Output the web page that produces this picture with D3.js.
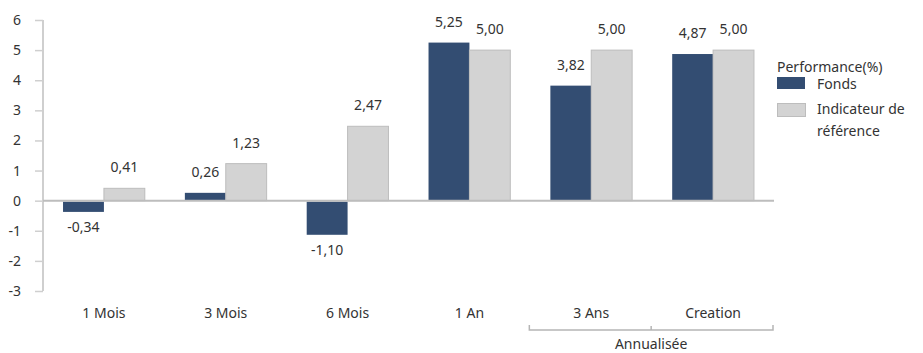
<!DOCTYPE html>
<html>
<head>
<meta charset="utf-8">
<script src="https://cdn.jsdelivr.net/npm/d3@7"></script>
<style>
  body { margin: 0; background: #fff; }
  text { font-family: "Noto Sans", "Open Sans", sans-serif; fill: #333; }
</style>
</head>
<body>
<div id="chart"></div>
<script>
// data
var categories = ["1 Mois", "3 Mois", "6 Mois", "1 An", "3 Ans", "Creation"];
var fonds = [-0.34, 0.26, -1.10, 5.25, 3.82, 4.87];
var reference = [0.41, 1.23, 2.47, 5.00, 5.00, 5.00];
var seriesNames = ["Fonds", "Indicateur de référence"];
var yTicks = [-3, -2, -1, 0, 1, 2, 3, 4, 5, 6];
var annualised = ["3 Ans", "Creation"];

var width = 923, height = 353;
var margin = { left: 43, right: 149, top: 20, bottom: 62 };

var svg = d3.select("#chart")
  .append("svg")
  .attr("width", width)
  .attr("height", height);

var x0 = d3.scaleBand()
  .domain(categories)
  .range([margin.left, width - margin.right])
  .padding(0);

var x1 = d3.scaleBand()
  .domain(seriesNames)
  .range([0, x0.bandwidth()])
  .paddingInner(0)
  .paddingOuter(0.49);

var y = d3.scaleLinear()
  .domain([-3, 6])
  .range([291, 20]);

var fmt = function(v) { return d3.format(".2f")(v).replace(".", ",").replace("−", "-"); };

// y axis
var yAxis = svg.append("g")
  .attr("transform", "translate(" + margin.left + ",0)")
  .call(d3.axisLeft(y).tickValues(yTicks).tickSize(8).tickPadding(14)
    .tickFormat(function(d) { return String(d); }));
yAxis.select(".domain").attr("stroke", "#cfcfcf").attr("stroke-width", 2).attr("d", "M0," + y(6) + "V" + y(-3));
yAxis.selectAll(".tick line").attr("stroke", "#cfcfcf").attr("stroke-width", 1.5);
yAxis.selectAll(".tick text")
  .style("font-size", "14px")
  .style("font-family", "'Noto Sans', sans-serif")
  .attr("fill", "#333");

var rows = categories.map(function(c, i) {
  return { cat: c, values: [ { name: seriesNames[0], v: fonds[i] }, { name: seriesNames[1], v: reference[i] } ] };
});

var group = svg.selectAll(".grp")
  .data(rows)
  .enter().append("g")
  .attr("class", "grp")
  .attr("transform", function(d) { return "translate(" + x0(d.cat) + ",0)"; });

group.selectAll("rect")
  .data(function(d) { return d.values; })
  .enter().append("rect")
  .attr("x", function(d) { return x1(d.name); })
  .attr("width", x1.bandwidth())
  .attr("y", function(d) { return d.v >= 0 ? y(d.v) : y(0) + 1; })
  .attr("height", function(d) { return Math.abs(y(d.v) - y(0)); })
  .style("fill", function(d) { return d.name == "Fonds" ? "#334d72" : "#d3d3d3"; })
  .style("stroke", function(d) { return d.name == "Fonds" ? "none" : "#bdbdbd"; })
  .style("stroke-width", 1);

group.selectAll(".lbl")
  .data(function(d) { return d.values; })
  .enter().append("text")
  .attr("class", "lbl")
  .attr("x", function(d) { return x1(d.name) + x1.bandwidth() / 2; })
  .attr("y", function(d) { return d.v >= 0 ? y(d.v) - 16 : y(d.v) + 21; })
  .attr("text-anchor", "middle")
  .style("font-size", "14px")
  .text(function(d) { return fmt(d.v); });

// zero line
svg.append("line")
  .attr("x1", margin.left)
  .attr("x2", width - margin.right)
  .attr("y1", y(0))
  .attr("y2", y(0))
  .attr("stroke", "#bdbdbd")
  .attr("stroke-width", 2);

// category labels
svg.selectAll(".cat")
  .data(categories)
  .enter().append("text")
  .attr("class", "cat")
  .attr("x", function(d) { return x0(d) + x0.bandwidth() / 2; })
  .attr("y", 318)
  .attr("text-anchor", "middle")
  .style("font-size", "14px")
  .text(function(d) { return d; });

// bracket under annualised columns
var bx1 = x0(annualised[0]) - 1;
var bx2 = x0(annualised[annualised.length - 1]) + x0.bandwidth() - 1;
var bmid = (bx1 + bx2) / 2;
svg.append("path")
  .attr("d", "M" + bx1 + ",325V330H" + bx2 + "V325M" + bmid + ",330V326")
  .attr("fill", "none")
  .attr("stroke", "#b5b5b5")
  .attr("stroke-width", 1.5);
svg.append("text")
  .attr("x", bmid)
  .attr("y", 349)
  .attr("text-anchor", "middle")
  .style("font-size", "14px")
  .text("Annualisée");

// legend
var legend = svg.append("g").attr("transform", "translate(777,0)");
legend.append("text").attr("x", 0).attr("y", 72).style("font-size", "14px").text("Performance(%)");
legend.append("rect").attr("x", 0).attr("y", 77).attr("width", 28).attr("height", 12).style("fill", "#334d72");
legend.append("text").attr("x", 40).attr("y", 89).style("font-size", "14px").text("Fonds");
legend.append("rect").attr("x", 0.5).attr("y", 103.5).attr("width", 28).attr("height", 13).style("fill", "#d3d3d3").style("stroke", "#bdbdbd");
legend.append("text").attr("x", 40).attr("y", 114).style("font-size", "14px").text("Indicateur de");
legend.append("text").attr("x", 40).attr("y", 136).style("font-size", "14px").text("référence");
</script>
</body>
</html>
